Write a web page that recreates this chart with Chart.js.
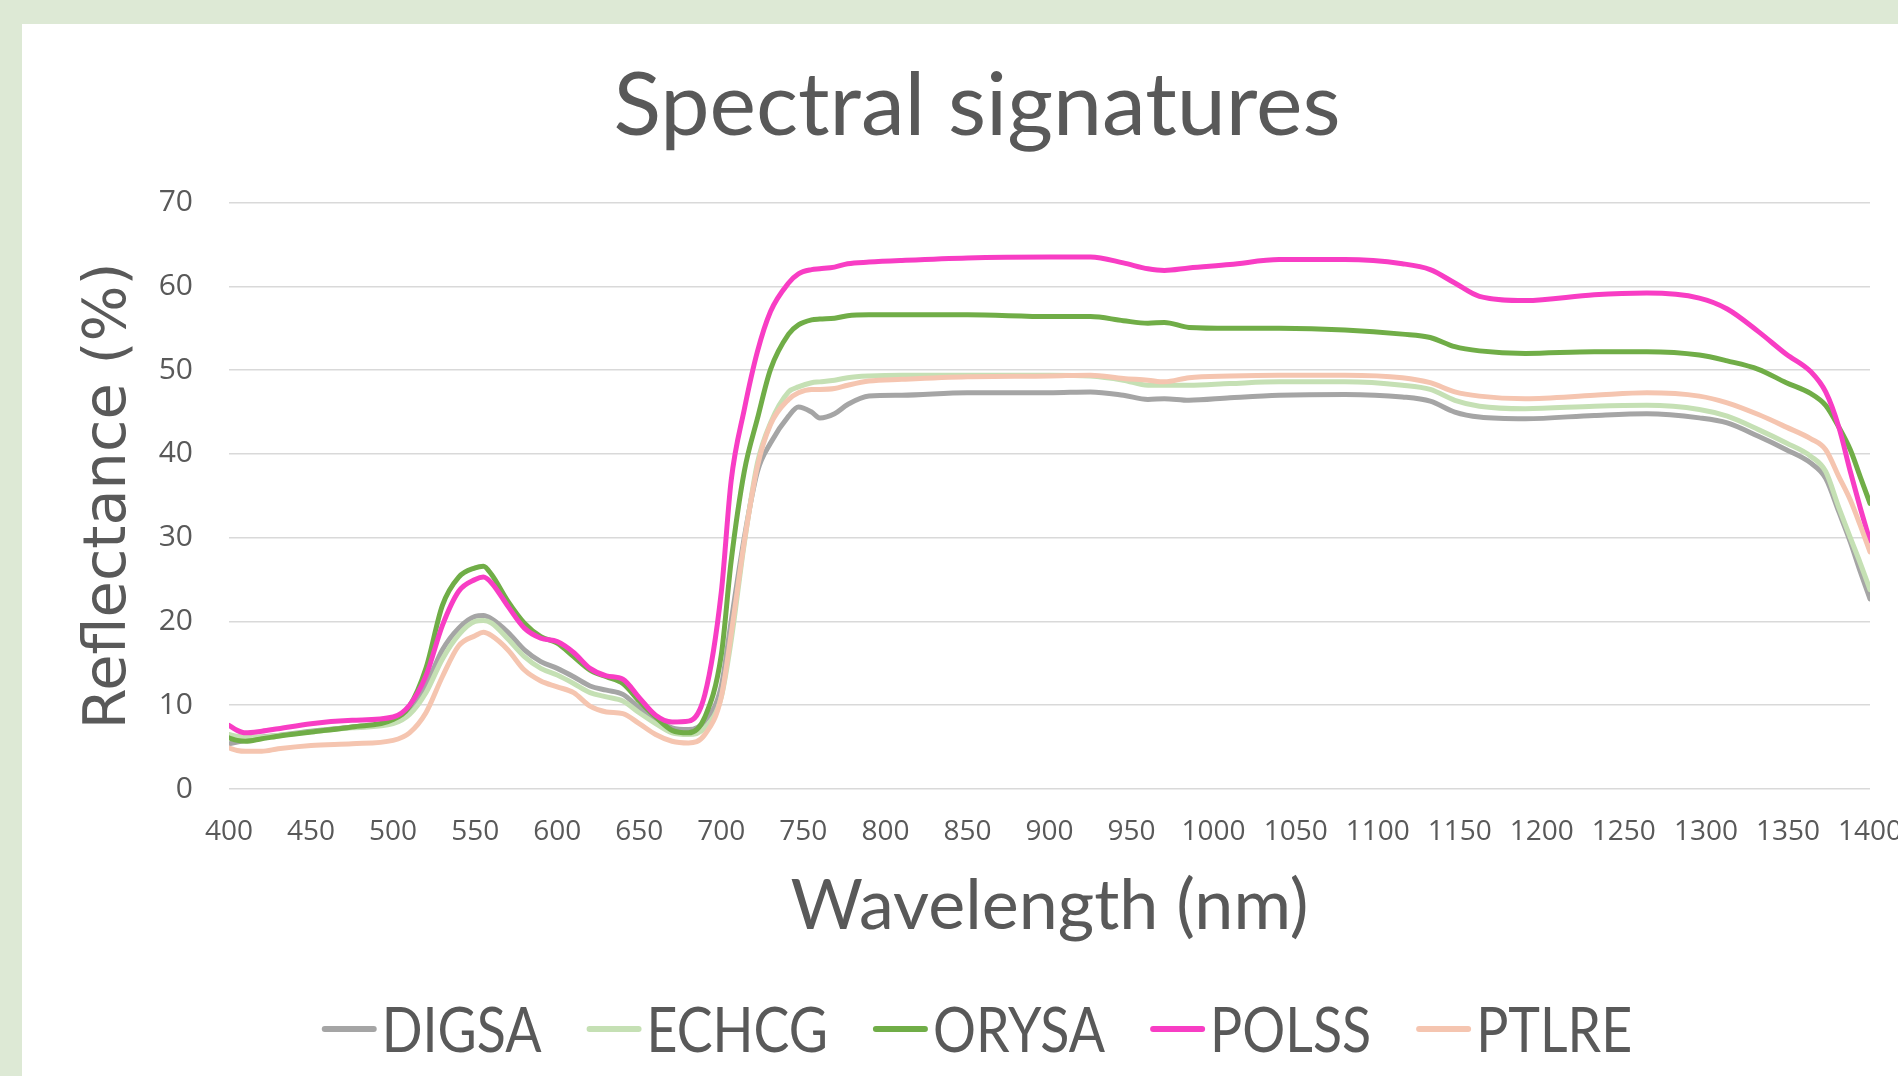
<!DOCTYPE html>
<html>
<head>
<meta charset="utf-8">
<title>Spectral signatures</title>
<script src="https://cdn.jsdelivr.net/npm/chart.js@4.4.1/dist/chart.umd.min.js"></script>
<style>
    html, body { margin: 0; padding: 0; width: 1898px; height: 1076px; overflow: hidden; background: #DDE9D5; }
    #panel { position: absolute; left: 22px; top: 24px; width: 1910px; height: 1052px; background: #ffffff; }
    #chartBox { position: absolute; left: 0; top: 0; width: 1910px; height: 1052px; }
</style>
</head>
<body>
<div id="panel">
    <div id="chartBox"><canvas id="spectraCanvas"></canvas></div>
</div>
<script>
// wavelengths in nm
const wavelengths = [400, 405, 410, 420, 430, 450, 475, 500, 510, 520,
    530, 540, 550, 555, 560, 570, 580, 590, 600, 610,
    620, 630, 640, 650, 660, 670, 680, 690, 700, 706,
    714, 722, 730, 741, 747, 755, 760, 769, 777, 790,
    810, 850, 900, 925, 945, 960, 970, 985, 1010, 1040,
    1080, 1115, 1132, 1147, 1162, 1190, 1232, 1264, 1296, 1313,
    1332, 1349, 1364, 1373, 1381, 1388, 1394, 1400];

// reflectance (%) per species
const digsa = [5.4, 5.6, 5.8, 6.2, 6.4, 6.9, 7.4, 8.0, 9.1, 12.3,
    16.6, 19.2, 20.6, 20.7, 20.3, 18.7, 16.6, 15.2, 14.4, 13.4,
    12.3, 11.8, 11.3, 9.7, 8.3, 7.3, 7.1, 8.1, 12.3, 20.0,
    30.0, 37.9, 41.3, 44.5, 45.6, 45.0, 44.3, 44.8, 45.9, 46.9,
    47.0, 47.3, 47.3, 47.4, 47.0, 46.5, 46.6, 46.4, 46.7, 47.0,
    47.1, 46.8, 46.3, 45.0, 44.4, 44.2, 44.6, 44.8, 44.3, 43.7,
    42.1, 40.5, 38.9, 37.1, 33.1, 29.5, 26.0, 22.7];
const echcg = [6.5, 6.3, 6.2, 6.2, 6.4, 6.8, 7.3, 7.8, 8.9, 11.5,
    15.5, 18.4, 20.0, 20.1, 19.8, 17.9, 15.8, 14.4, 13.6, 12.6,
    11.5, 11.0, 10.5, 9.1, 7.8, 6.7, 6.5, 7.3, 11.0, 17.7,
    29.3, 38.9, 43.7, 47.4, 48.0, 48.5, 48.6, 48.8, 49.1, 49.3,
    49.4, 49.4, 49.4, 49.3, 48.8, 48.2, 48.2, 48.2, 48.4, 48.6,
    48.6, 48.2, 47.7, 46.4, 45.7, 45.4, 45.7, 45.8, 45.3, 44.5,
    42.9, 41.3, 39.7, 37.9, 33.6, 30.0, 27.0, 23.8];
const orysa = [6.1, 5.8, 5.7, 6.0, 6.3, 6.8, 7.4, 8.3, 9.9, 14.4,
    21.9, 25.3, 26.4, 26.6, 25.6, 22.4, 19.8, 18.2, 17.4, 15.8,
    14.2, 13.4, 12.6, 10.5, 8.6, 7.0, 6.7, 8.6, 16.0, 27.2,
    37.9, 44.2, 50.1, 54.3, 55.4, 56.0, 56.1, 56.2, 56.5, 56.6,
    56.6, 56.6, 56.4, 56.4, 55.9, 55.6, 55.7, 55.1, 55.0, 55.0,
    54.8, 54.3, 53.9, 52.8, 52.3, 52.0, 52.2, 52.2, 51.8, 51.1,
    50.1, 48.5, 47.2, 45.8, 43.2, 40.5, 37.3, 34.1];
const polss = [7.6, 7.0, 6.7, 6.9, 7.2, 7.8, 8.2, 8.6, 10.0, 13.5,
    19.5, 23.6, 25.0, 25.3, 24.6, 21.8, 19.2, 18.0, 17.6, 16.3,
    14.4, 13.5, 13.1, 10.9, 8.8, 8.0, 8.1, 11.3, 23.5, 36.8,
    45.3, 52.2, 57.0, 60.4, 61.5, 62.0, 62.1, 62.3, 62.7, 62.9,
    63.1, 63.4, 63.5, 63.5, 62.8, 62.1, 61.9, 62.2, 62.6, 63.2,
    63.2, 62.7, 62.0, 60.4, 58.8, 58.3, 59.0, 59.2, 58.6, 57.3,
    54.6, 51.9, 49.8, 47.4, 43.2, 37.9, 33.6, 29.6];
const ptlre = [4.9, 4.6, 4.5, 4.5, 4.8, 5.2, 5.4, 5.8, 6.7, 9.1,
    13.4, 17.1, 18.3, 18.7, 18.3, 16.6, 14.2, 12.9, 12.2, 11.5,
    9.9, 9.2, 9.0, 7.8, 6.5, 5.7, 5.5, 6.5, 11.0, 18.5,
    29.5, 38.5, 43.5, 46.5, 47.3, 47.7, 47.7, 47.8, 48.2, 48.7,
    48.9, 49.2, 49.3, 49.4, 49.0, 48.8, 48.6, 49.1, 49.3, 49.4,
    49.4, 49.1, 48.5, 47.4, 46.9, 46.6, 47.0, 47.3, 46.9, 46.1,
    44.7, 43.2, 41.8, 40.5, 37.3, 34.5, 31.5, 28.3];

const seriesNames = ['DIGSA', 'ECHCG', 'ORYSA', 'POLSS', 'PTLRE'];
const seriesValues = [digsa, echcg, orysa, polss, ptlre];
const seriesColors = ['#A5A5A5', '#C5E0B4', '#70AD47', '#F83DC4', '#F5C5B0'];

const textColor = '#595959';

function toPoints(values) {
    return wavelengths.map((wl, i) => ({ x: wl, y: values[i] }));
}

// legend drawn by hand so the short line sits tight against the label, like in Excel
const lineLegend = {
    id: 'lineLegend',
    afterDraw(chart) {
        const ctx = chart.ctx;
        const lineW = 55, gap = 5, itemGap = 45;
        const squeeze = 0.88; // Calibri-ish narrow text
        ctx.save();
        ctx.font = '61px Lato';
        const widths = seriesNames.map(n => ctx.measureText(n).width * squeeze);
        const total = widths.reduce((a, w) => a + lineW + gap + w, 0) + itemGap * (seriesNames.length - 1);
        let x = chart.width / 2 - total / 2;
        const lineY = 1005, textY = 1028;
        seriesNames.forEach((name, i) => {
            ctx.strokeStyle = seriesColors[i];
            ctx.lineWidth = 6;
            ctx.lineCap = 'round';
            ctx.beginPath();
            ctx.moveTo(x + 3, lineY);
            ctx.lineTo(x + lineW - 3, lineY);
            ctx.stroke();
            ctx.save();
            ctx.translate(x + lineW + gap, textY);
            ctx.scale(squeeze, 1);
            ctx.fillStyle = textColor;
            ctx.textAlign = 'left';
            ctx.textBaseline = 'alphabetic';
            ctx.fillText(name, 0, 0);
            ctx.restore();
            x += lineW + gap + widths[i] + itemGap;
        });
        ctx.restore();
    }
};

function drawChart() {
    const ctx = document.getElementById('spectraCanvas').getContext('2d');

    const datasets = seriesNames.map((name, i) => ({
        label: name,
        data: toPoints(seriesValues[i]),
        borderColor: seriesColors[i],
        backgroundColor: seriesColors[i],
        borderWidth: 5,
        pointRadius: 0,
        cubicInterpolationMode: 'monotone',
        borderCapStyle: 'round',
        borderJoinStyle: 'round',
        fill: false,
        order: seriesNames.length - i
    }));

    new Chart(ctx, {
        type: 'line',
        data: { datasets: datasets },
        options: {
            responsive: true,
            maintainAspectRatio: false,
            devicePixelRatio: 1,
            animation: false,
            layout: {
                padding: { left: 62, right: 62, top: 0, bottom: 112 }
            },
            plugins: {
                legend: { display: false },
                tooltip: { enabled: false },
                title: {
                    display: true,
                    text: 'Spectral signatures',
                    color: textColor,
                    font: { family: 'Lato', size: 88, weight: 'normal', lineHeight: 1.2 },
                    padding: { top: 30, bottom: 43 }
                }
            },
            scales: {
                x: {
                    type: 'linear',
                    min: 400,
                    max: 1400,
                    grid: { display: false },
                    border: { display: false },
                    ticks: {
                        stepSize: 50,
                        autoSkip: false,
                        maxRotation: 0,
                        padding: 18,
                        color: textColor,
                        font: { family: 'Open Sans', size: 28 },
                        callback: value => String(value)
                    },
                    title: {
                        display: true,
                        text: 'Wavelength (nm)',
                        color: textColor,
                        font: { family: 'Lato', size: 70, lineHeight: 1.2 },
                        padding: { top: 0, bottom: 16 }
                    },
                    afterFit: scale => { scale.height = 175; }
                },
                y: {
                    min: 0,
                    max: 70,
                    grid: { color: '#D9D9D9', lineWidth: 1.5, drawTicks: false },
                    border: { display: false },
                    ticks: {
                        stepSize: 10,
                        padding: 36,
                        color: textColor,
                        font: { family: 'Open Sans', size: 30 }
                    },
                    title: {
                        display: true,
                        text: 'Reflectance (%)',
                        color: textColor,
                        font: { family: 'DejaVu Sans', size: 59, lineHeight: 0.75 },
                        padding: { top: 4, bottom: 0 }
                    },
                    afterFit: scale => { scale.width = 145; }
                }
            }
        },
        plugins: [lineLegend]
    });
}

window.addEventListener('load', drawChart);
</script>
</body>
</html>
